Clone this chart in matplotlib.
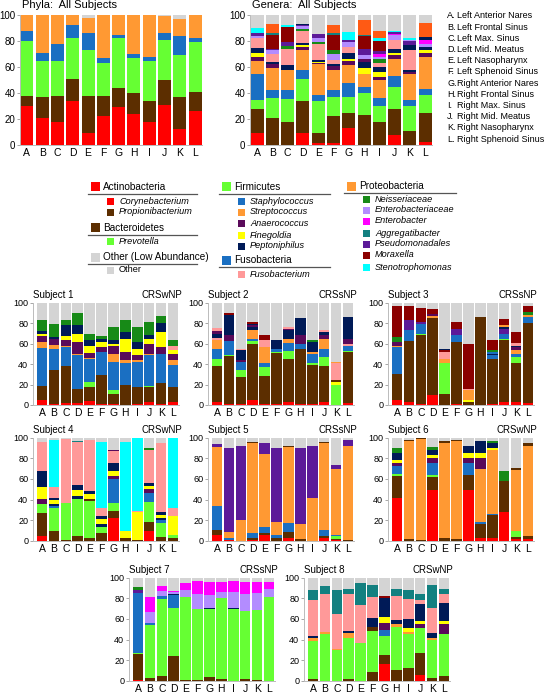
import matplotlib.pyplot as plt
from matplotlib.patches import Rectangle
from matplotlib.lines import Line2D

plt.rcParams['font.family'] = ['Liberation Sans', 'DejaVu Sans']

W, H = 549, 695

sites = list('ABCDEFGHIJKL')
site_names = ['Left Anterior Nares', 'Left Frontal Sinus', 'Left Max. Sinus', 'Left Mid. Meatus',
              'Left Nasopharynx', 'Left Sphenoid Sinus', 'Right Anterior Nares', 'Right Frontal Sinus',
              'Right Max. Sinus', 'Right Mid. Meatus', 'Right Nasopharynx', 'Right Sphenoid Sinus']

# phyla, all subjects (percent per site)
actinobacteria = [30, 21, 18, 34, 9, 22, 29, 24, 18, 31, 12, 26]
bacteroidetes = [8, 16, 20, 17, 29, 16, 15, 16, 16, 19, 25, 15]
firmicutes = [42, 28, 27, 31, 35, 25, 38, 27, 31, 31, 32, 38]
fusobacteria = [8, 6, 13, 10, 13, 4, 3, 3, 3, 5, 15, 3]
proteobacteria = [12, 29, 22, 8, 12, 33, 15, 30, 32, 13, 13, 18]
phyla_other = [0, 0, 0, 0, 2, 0, 0, 0, 0, 1, 3, 0]

phyla_names = ['Actinobacteria', 'Bacteroidetes', 'Firmicutes', 'Fusobacteria', 'Proteobacteria', 'Other (Low Abundance)']
phyla_colors = ['#FF0000', '#5C2E00', '#66FF33', '#1A6FC2', '#FF9933', '#D4D4D4']

# genus codes -> colour
genus_colors = {
    'c': '#FF0000',  # Corynebacterium
    'p': '#5C2E00',  # Propionibacterium
    'v': '#66FF33',  # Prevotella
    's': '#1A6FC2',  # Staphylococcus
    't': '#FF9933',  # Streptococcus
    'a': '#5A0A5A',  # Anaerococcus
    'f': '#FFFF00',  # Finegoldia
    'e': '#001A57',  # Peptoniphilus
    'u': '#FF9999',  # Fusobacterium
    'n': '#178A17',  # Neisseriaceae
    'b': '#B38CFF',  # Enterobacteriaceae
    'm': '#FF00FF',  # Enterobacter
    'g': '#138080',  # Aggregatibacter
    'd': '#5C1A99',  # Pseudomonadales
    'x': '#8B0000',  # Moraxella
    'y': '#00FFFF',  # Stenotrophomonas
    'r': '#FF5A14',  # unlabeled
    'o': '#D4D4D4',  # Other
}

# cumulative tops (%) per site; remainder up to 100 is "Other"
genera_all = ["c9 p27.5 v34.5 s55 t65 a68 f70.5 e74.5 u82 b84 d86.5 y90",
              "p20.5 v36 s42 t59 a62 e64 u70 b73 d74 x84.5 g86 r93",
              "p18 v35.5 s42 t57.5 e61.5 u73.5 n76 d79 x91 y92",
              "c9 p33.5 v50.5 s57.5 t73 a75.5 f77 e78.5 u88 n89.5 b91.3 d92 e93.4",
              "c1.5 p9 v33.5 s38.5 t62 a63 f64 e65.5 u78 n79.3 b82 d85.7",
              "c1.5 p22 v37 s42 t57.5 a60.5 e62 u65.5 b70 n73 x84.5 g86 r92",
              "c13 p24.5 v37 s48 t61.5 a64.5 f66 e70.5 u75.5 b79 d81 y87",
              "p23 v40 s44.5 t55 f59 e64 a66.5 b69 d73.5 x83.7 g85 r96",
              "p18 v30 s36 t50 a52 f56 e60 u63 n66 b68 m70 d72 x80 y82 r88",
              "c8 p28 v45 s53 t66 a69 f70.5 e74 u80.5 b84.5 m85.7 d87 y88",
              "p11 v30 s35 t55 a56 e57.6 u73 e77 d80 b81 y82",
              "c2 p24.5 v38.5 s43 t68 a70.5 f73 e75.5 b78 m80.5 e83 r93.5"]

subject1 = ["c5 p18.4 v19 s55.7 t61.5 a67 f69 e72 n83",
            "c1 p34 v34.5 s54.4 t59 a64 e66 n79",
            "c2 p38 s56.6 t58 a63 f67 e77.7 n83",
            "c2 p16 s48.5 t50 a61.5 f69.6 e77.7 n90",
            "c4 p17.8 v22.6 s44.7 t46 a50.8 f58 e63 n69.6",
            "c1 p29 s51.8 a56.6 f61.5 e64.7 n67",
            "c1 p10.7 v14.6 s42 t50 a58 f60 e63 n76",
            "p19.4 s40.5 t43.7 a51.8 f64.7 e71 n83",
            "c1 p17.8 s42 t43.7 a48.5 f55 e61.5 n76",
            "c3 p17.8 v18.4 s48.5 t50 a60 f64.7 e68 n81",
            "c1 p21 s50 a56.6 f71 e80 n87",
            "c3 p17.8 s38.8 t43.7 a50 f54 u58 n63"]
subject2 = ["c3 p38 v45 s55 t63 u65 e69.6 a72 u75.4",
            "c1 p48 v48.5 s62.5 a68 e88 x89.5",
            "c1 p27.5 v34 s42 a44 e53.4 u55",
            "c5 p60 v62.5 s64.7 t72.8 e76 a77.7 e79 x81",
            "c1 p28.5 v37 s40.5 t56.6 u63 x68",
            "c1 p51 v51.8 s55 e63",
            "c3 p44.7 v52.7 s60.5 t64.7 e72.8 a74.4 u76",
            "c1 p55 s60 a68 e85",
            "c1 p38.8 v40.5 s50 t51.8 e61.5 n63",
            "c3 p38.2 v47 s55 t64.7 a68 e71 u73",
            "v19.4 f22.6 p24 u40.5 t42",
            "c2 p51.8 v52.4 s58 u60 a64.7 e86"]
subject3 = ["c5 p30.7 s56.6 t58 a61.5 n66.3 x97",
            "c3 p62 s72.8 d82.5 x97",
            "c1 p68 v69 s79 d81 x95",
            "c10 p85 t87 a89 x94",
            "p10.7 v40.5 t45 u52 x54 e55",
            "c1 p61.5 s68 d74.4 x81",
            "p3 f5 t14.6 u16 x60",
            "p86",
            "c1 p44.7 s48.5 e50 s51.8 n53.4 x63",
            "c3 p63 v64.7 s69.6 d74.4 e76 t78 x84",
            "c3 p40.5 v47 s50 t53.4 a56.6 e58 u60.5 x71",
            "c2 p80 s86 t88 n91 x97"]
subject4 = ["c5 p26.6 v35.4 a41 f52.5 e68 u95.3 g96",
            "p10 v32 s34 e36 f40 e42 u52.5 y98",
            "p1 v37 u99",
            "p5 v41 e43 f49 e54 u96 g97",
            "p3 v39 p41 f45 e48 u98",
            "p8 v13.6 e16 f21.7 e24.3 u31.5 y96",
            "c22 p29 v37 s60 a63 f68 e75 u87 a88",
            "p3 f10 y96",
            "p1 f28 u29 y100",
            "c10 p18 v38 s46 a50 f53 e56 u88 n90",
            "p4 v17 s20 e22 f25 e28 u95",
            "p3 v6 f24 u32 y100"]
subject5 = ["c6 p11 s34 t91 d94",
            "c1 s3 t9 d90",
            "t20 d92",
            "c1 p3 s8 t95 p96",
            "c6 p8 s14 t84 d95",
            "p3 s6 t18 d90",
            "c3 p9 s17 t91 p92",
            "p2 t16 d90",
            "t42 d92",
            "c3 p5 s11 t95 p96",
            "c1 p2 v5 s6 t70 d73",
            "p1 t92 d98"]
subject6 = ["c42 p63 v65 s72 a75 f78 e85 n90",
            "p2 t97 p98",
            "p1 t99 p100",
            "c49 p62 v64 s75 a80 f83 e88 n91",
            "p3 t95 p97",
            "p2 t97 p98",
            "c49 p64 s75 a80 f85 e92",
            "c3 p16 s18 t70 a80 f85 e97",
            "c3 p25 s26 t88 f90 e95 n97",
            "c28 p58 n68",
            "c2 p4 v10 t69 p71",
            "c2 p5 t92 p95"]
subject7 = ["c1 p26 v27 s85 d88 n91",
            "p3 v54 s56 b67 m81",
            "p5 v79 s82 b87 m92",
            "p24 v71 s83 e84 b86 m87",
            "p1 v81 b88 m95",
            "p1 v69.5 b83.6 m97",
            "p4 v70 e71 b83 m96",
            "p2 v80 b86 m96",
            "v70 e71 b86 m97",
            "p2 v68 b84 m96",
            "p1 v69 b85 m96",
            "v81 b89 m96"]
subject8 = ["p2 v39 t42 e43 u78 g87.5",
            "v45 t47 u83.6 g92",
            "v30 t31 u64.6 g87.5",
            "p2 v42 t46 e48 u83.6 g89",
            "v37 u73.7 g95",
            "p9 v48 p52 e60.5 u81 g92.5",
            "c16 p25 v43 s49 a56 f62 e80 x82",
            "p11 v52 t55 e59 u82 g89",
            "p13 v45 t47 f51 e60 u79 g87.5",
            "c6 p27 v51 a55 f58 e74 u78 g84",
            "p3 v40 t42 e46 u71 g92.5",
            "p5 v45 a50 a55 f58 e75 u84 g89"]

subjects = [subject1, subject2, subject3, subject4, subject5, subject6, subject7, subject8]
subject_titles = ['Subject 1', 'Subject 2', 'Subject 3', 'Subject 4', 'Subject 5', 'Subject 6', 'Subject 7', 'Subject 8']
subject_types = ['CRSwNP', 'CRSsNP', 'CRSsNP', 'CRSwNP', 'CRSsNP', 'CRSwNP', 'CRSsNP', 'CRSwNP']

fig = plt.figure(figsize=(W / 100, H / 100), dpi=100)


def px_axes(x0, ytop, x1, ybot):
    return fig.add_axes([x0 / W, 1 - ybot / H, (x1 - x0) / W, (ybot - ytop) / H])


def style_axes(ax, xlim, xfs, yfs):
    ax.set_xlim(*xlim)
    ax.set_ylim(0, 100)
    ax.set_yticks([0, 20, 40, 60, 80, 100])
    ax.set_xticks(range(12))
    ax.set_xticklabels(sites, fontsize=xfs)
    ax.tick_params(axis='y', labelsize=yfs, length=2, width=0.6, color='#999999', pad=1.5)
    ax.tick_params(axis='x', length=0, pad=2.5)
    for sp in ['top', 'right']:
        ax.spines[sp].set_visible(False)
    for sp in ['left', 'bottom']:
        ax.spines[sp].set_color('#BBBBBB')
        ax.spines[sp].set_linewidth(0.7)


def draw_stacks(ax, bars, width):
    for i, bar in enumerate(bars):
        prev = 0.0
        for tok in bar.split():
            code, top = tok[0], float(tok[1:])
            ax.bar(i, top - prev, bottom=prev, width=width, color=genus_colors[code], linewidth=0)
            prev = top
        if prev < 100:
            ax.bar(i, 100 - prev, bottom=prev, width=width, color=genus_colors['o'], linewidth=0)


# Phyla panel
ax = px_axes(20, 15, 202, 145)
bottom = [0] * 12
for vals, col in zip([actinobacteria, bacteroidetes, firmicutes, fusobacteria, proteobacteria], phyla_colors):
    ax.bar(range(12), vals, bottom=bottom, width=0.85, color=col, linewidth=0)
    bottom = [b + v for b, v in zip(bottom, vals)]
ax.bar(range(12), [100 - b for b in bottom], bottom=bottom, width=0.85, color=phyla_colors[5], linewidth=0)
style_axes(ax, (-0.45, 11.45), 7.5, 7)
fig.text(22 / W, 1 - 5 / H, 'Phyla:  All Subjects', fontsize=8, va='center')

# Genera panel
ax = px_axes(250, 15, 432, 145)
draw_stacks(ax, genera_all, 0.85)
style_axes(ax, (-0.46, 11.44), 7.5, 7)
fig.text(252 / W, 1 - 5 / H, 'Genera:  All Subjects', fontsize=8, va='center')

# site legend
for k, (s, name) in enumerate(zip(sites, site_names)):
    fig.text(447 / W, 1 - (16 + k * 11.2) / H, s + '.', fontsize=6.5, va='center')
    fig.text(457 / W, 1 - (16 + k * 11.2) / H, name, fontsize=6.5, va='center')

# Subject panels
panel_pos = [(33, 302.5, 405), (208, 302.5, 405), (388, 302.5, 405),
             (33, 437.5, 541), (208, 437.5, 541), (388, 437.5, 541),
             (129, 577.5, 681), (304, 577.5, 681)]
for bars, title, kind, (x0, yt, yb) in zip(subjects, subject_titles, subject_types, panel_pos):
    ax = px_axes(x0, yt, x0 + 146, yb)
    draw_stacks(ax, bars, 0.88)
    style_axes(ax, (-0.75, 11.5), 7.5, 6.5)
    ax.text(0.0, 1.02, title, transform=ax.transAxes, fontsize=7, va='bottom', ha='left')
    ax.text(1.02, 1.02, kind, transform=ax.transAxes, fontsize=7, va='bottom', ha='right')


# legend block
def patch(x, y, size, color):
    fig.add_artist(Rectangle((x / W, 1 - (y + size / 2) / H), size / W, size / H,
                             transform=fig.transFigure, color=color, linewidth=0))


def hline(x0, x1, y):
    fig.add_artist(Line2D([x0 / W, x1 / W], [1 - y / H, 1 - y / H], transform=fig.transFigure,
                          color='#555555', linewidth=0.9))


def header(x, y, name, color, x1):
    patch(x, y, 9, color)
    fig.text((x + 12) / W, 1 - y / H, name, fontsize=7.2, va='center')
    hline(x - 3, x1, y + 7)


def item(x, y, name, color):
    patch(x, y, 7, color)
    fig.text((x + 12) / W, 1 - y / H, name, fontsize=6.6, style='italic', va='center')


header(91, 187, 'Actinobacteria', genus_colors['c'], 197)
item(107, 201, 'Corynebacterium', genus_colors['c'])
item(107, 212, 'Propionibacterium', genus_colors['p'])
header(91, 228, 'Bacteroidetes', genus_colors['p'], 197)
item(107, 241, 'Prevotella', genus_colors['v'])
header(91, 257, 'Other (Low Abundance)', genus_colors['o'], 197)
patch(107, 270, 7, genus_colors['o'])
fig.text(119 / W, 1 - 270 / H, 'Other', fontsize=6.6, va='center')

header(222, 187, 'Firmicutes', genus_colors['v'], 330)
item(238, 201, 'Staphylococcus', genus_colors['s'])
item(238, 212, 'Streptococcus', genus_colors['t'])
item(238, 223, 'Anaerococcus', genus_colors['a'])
item(238, 235, 'Finegoldia', genus_colors['f'])
item(238, 246, 'Peptoniphilus', genus_colors['e'])
header(222, 260, 'Fusobacteria', genus_colors['s'], 330)
item(238, 274, 'Fusobacterium', genus_colors['u'])

header(347, 186, 'Proteobacteria', genus_colors['t'], 456)
item(363, 199, 'Neisseriaceae', genus_colors['n'])
item(363, 210, 'Enterobacteriaceae', genus_colors['b'])
item(363, 221, 'Enterobacter', genus_colors['m'])
item(363, 233, 'Aggregatibacter', genus_colors['g'])
item(363, 244, 'Pseudomonadales', genus_colors['d'])
item(363, 255, 'Moraxella', genus_colors['x'])
item(363, 267, 'Stenotrophomonas', genus_colors['y'])

plt.savefig('out.png', dpi=100)
